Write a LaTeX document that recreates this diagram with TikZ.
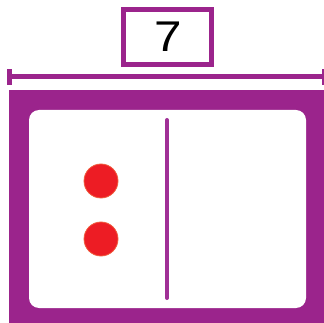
\documentclass[tikz,border=0pt]{standalone}
\usepackage{fontspec}
\setmainfont{Liberation Sans}
\definecolor{tapepurple}{RGB}{155,36,140}
\definecolor{divpurple}{RGB}{160,48,150}
\definecolor{dotred}{RGB}{237,28,36}
\definecolor{dotedge}{RGB}{240,90,60}
\begin{document}
\begin{tikzpicture}[x=1pt,y=-1pt,
  labelbox/.style={draw=tapepurple,line width=4.5pt,fill=white,minimum width=88pt,minimum height=55pt,inner sep=0pt,font=\fontsize{43}{43}\selectfont},
  counter/.style={circle,fill=dotred,draw=dotedge,line width=0.8pt,minimum size=34pt,inner sep=0pt},
  measure/.style={draw=tapepurple,line width=5pt},
  endcap/.style={fill=tapepurple}]
\useasboundingbox (0,0) rectangle (324,323);
% label
\node[labelbox] (lbl) at (167.5,37) {\hspace{1.5pt}\scalebox{1.15}[1]{7}};
% measuring bar
\coordinate (barL) at (9.5,76.5);
\coordinate (barR) at (324,76.5);
\draw[measure] (barL) -- (barR);
\fill[endcap] (7,69) rectangle (12,85);
\fill[endcap] (321.5,69) rectangle (324,85);
% frame
\fill[tapepurple] (9,90) rectangle (324,323);
\fill[white,rounded corners=10pt] (29,110) rectangle (306,308);
% divider
\coordinate (divT) at (167,120);
\coordinate (divB) at (167,298);
\draw[divpurple,line width=4pt,line cap=round] (divT) -- (divB);
% counters
\node[counter] (c1) at (101,181) {};
\node[counter] (c2) at (101,239) {};
\end{tikzpicture}
\end{document}
